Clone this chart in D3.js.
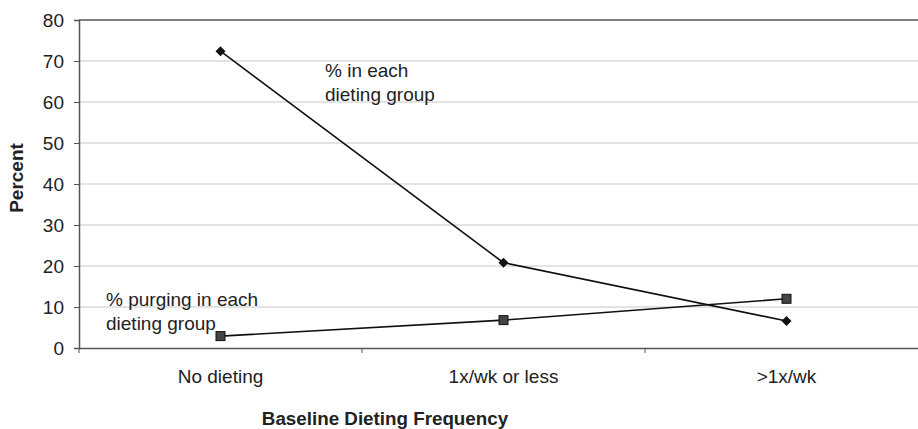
<!DOCTYPE html>
<html>
<head>
<meta charset="utf-8">
<script src="https://cdn.jsdelivr.net/npm/d3@7"></script>
<style>
  html, body { margin: 0; padding: 0; background: #fff; }
  svg { display: block; font-family: "Liberation Sans", Arial, sans-serif; }
</style>
</head>
<body>
<svg id="chart" width="918" height="429"></svg>
<script>
// Dieting frequency groups
const categories = ["No dieting", "1x/wk or less", ">1x/wk"];
// Share of the sample in each dieting group (%)
const pctInGroup = [72.4, 20.8, 6.6];
// Share purging within each dieting group (%)
const pctPurging = [2.9, 6.8, 12.0];
const yTicks = [0, 10, 20, 30, 40, 50, 60, 70, 80];

const svg = d3.select("#chart");
const plotLeft = 79, plotTop = 20, plotBottom = 348, plotRight = 928;
const fontSize = 19;

const x = d3.scaleBand().domain(categories).range([plotLeft, plotRight]).padding(0);
const y = d3.scaleLinear().domain([0, 80]).range([plotBottom, plotTop]);
const cx = d => x(d) + x.bandwidth() / 2;

// horizontal gridlines
svg.append("g").selectAll("line").data(yTicks.filter(t => t > 0 && t < 80)).join("line")
  .attr("x1", plotLeft).attr("x2", 918).attr("y1", d => y(d)).attr("y2", d => y(d))
  .attr("stroke", "#c8c8c8").attr("stroke-width", 1.2);
// top frame
svg.append("line").attr("x1", plotLeft).attr("x2", 918).attr("y1", y(80)).attr("y2", y(80))
  .attr("stroke", "#555").attr("stroke-width", 1.5);

// y axis
const yAxis = svg.append("g").attr("transform", `translate(${plotLeft},0)`)
  .call(d3.axisLeft(y).tickValues(yTicks).tickSize(5).tickPadding(10));
yAxis.select(".domain").attr("stroke", "#555").attr("stroke-width", 1.5);
yAxis.selectAll(".tick line").attr("stroke", "#555");
yAxis.selectAll(".tick text").attr("font-size", fontSize).attr("fill", "#222")
  .attr("font-family", "Liberation Sans, Arial, sans-serif");

// x axis
const xAxis = svg.append("g").attr("transform", `translate(0,${plotBottom})`)
  .call(d3.axisBottom(x).tickSize(0).tickPadding(22));
xAxis.select(".domain").attr("stroke", "#555").attr("stroke-width", 1.5);
xAxis.selectAll(".tick text").attr("font-size", fontSize).attr("fill", "#222")
  .attr("font-family", "Liberation Sans, Arial, sans-serif");
// category boundary ticks
svg.append("g").selectAll("line").data(categories).join("line")
  .attr("x1", d => x(d)).attr("x2", d => x(d))
  .attr("y1", plotBottom).attr("y2", plotBottom + 5)
  .attr("stroke", "#555").attr("stroke-width", 1);

// axis titles
svg.append("text").attr("transform", "translate(23,178) rotate(-90)")
  .attr("text-anchor", "middle").attr("font-size", fontSize).attr("font-weight", "bold")
  .attr("fill", "#222").text("Percent");
svg.append("text").attr("x", 385).attr("y", 425)
  .attr("text-anchor", "middle").attr("font-size", 18.8).attr("font-weight", "bold")
  .attr("fill", "#222").text("Baseline Dieting Frequency");

const line = d3.line().x((d, i) => cx(categories[i])).y(d => y(d));

// series: % in each dieting group
svg.append("path").datum(pctInGroup).attr("d", line)
  .attr("fill", "none").attr("stroke", "#111").attr("stroke-width", 1.6);
svg.append("g").selectAll("path").data(pctInGroup).join("path")
  .attr("d", d3.symbol(d3.symbolSquare, 50))
  .attr("transform", (d, i) => `translate(${cx(categories[i])},${y(d)}) rotate(45)`)
  .attr("fill", "#111");

// series: % purging in each dieting group
svg.append("path").datum(pctPurging).attr("d", line)
  .attr("fill", "none").attr("stroke", "#111").attr("stroke-width", 1.6);
svg.append("g").selectAll("rect").data(pctPurging).join("rect")
  .attr("x", (d, i) => cx(categories[i]) - 4.5).attr("y", d => y(d) - 4.5)
  .attr("width", 9).attr("height", 9)
  .attr("fill", "#444").attr("stroke", "#111").attr("stroke-width", 1);

// series annotations
const note = (lines, x0, y0) => {
  const t = svg.append("text").attr("font-size", fontSize).attr("fill", "#222");
  lines.forEach((s, i) => t.append("tspan").attr("x", x0).attr("y", y0 + i * 24).text(s));
};
note(["% in each", "dieting group"], 325, 77);
note(["% purging in each", "dieting group"], 106, 306);
</script>
</body>
</html>
